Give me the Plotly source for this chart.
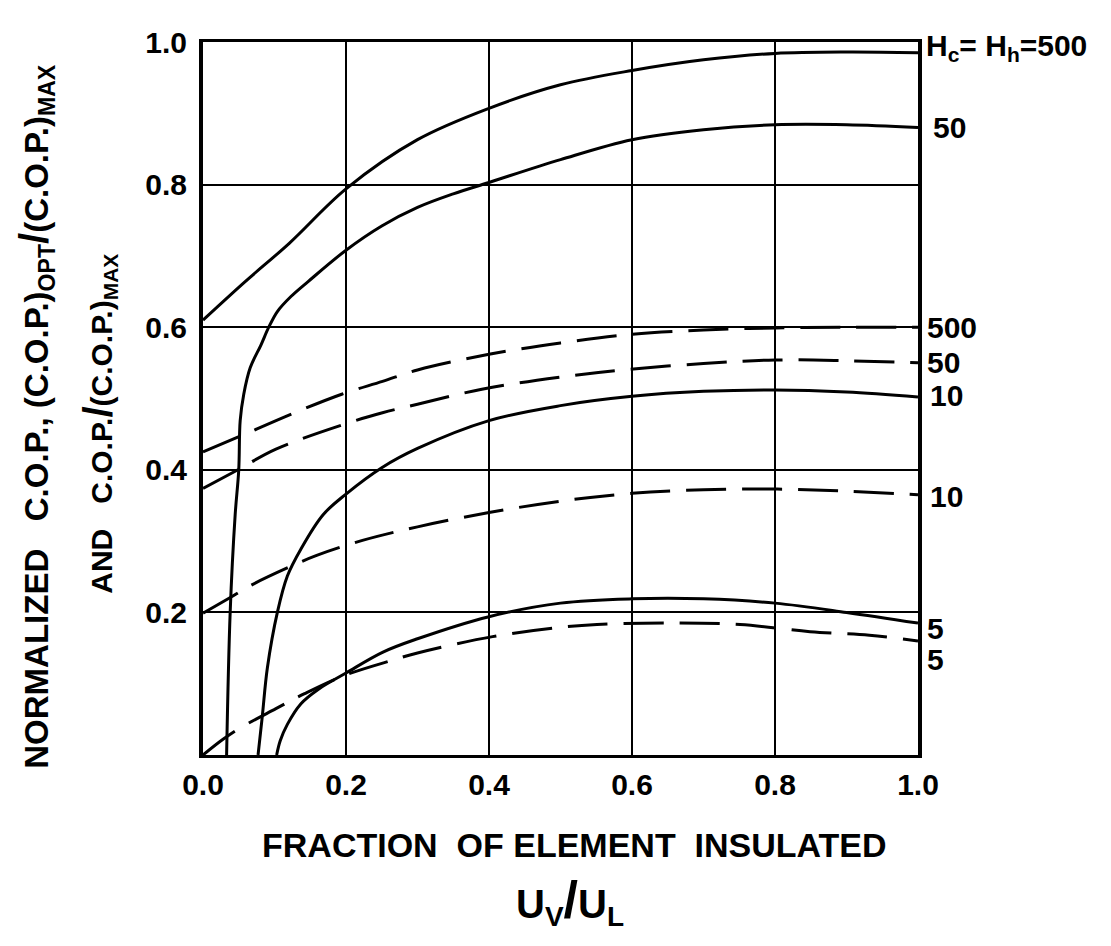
import plotly.graph_objects as go

# ---- axis ticks ----
x_ticks = [0.0, 0.2, 0.4, 0.6, 0.8, 1.0]
x_tick_labels = ["0.0", "0.2", "0.4", "0.6", "0.8", "1.0"]
y_ticks = [0.2, 0.4, 0.6, 0.8, 1.0]
y_tick_labels = ["0.2", "0.4", "0.6", "0.8", "1.0"]

# ---- solid curves: (C.O.P.)opt / (C.O.P.)max ----
s500_x = [0.0, 0.059, 0.121, 0.2, 0.3, 0.4, 0.5, 0.6, 0.7, 0.8, 0.9, 1.0]
s500_y = [0.61, 0.664, 0.718, 0.794, 0.863, 0.907, 0.94, 0.96, 0.975, 0.984, 0.986, 0.985]

s50_x = [0.033, 0.038, 0.045, 0.05, 0.052, 0.057, 0.066, 0.081, 0.092, 0.104, 0.123, 0.147, 0.2, 0.25, 0.3, 0.35, 0.4, 0.5, 0.6, 0.7, 0.8, 0.9, 1.0]
s50_y = [0.0, 0.2, 0.337, 0.4, 0.469, 0.506, 0.543, 0.575, 0.6, 0.622, 0.643, 0.664, 0.708, 0.742, 0.768, 0.787, 0.803, 0.835, 0.863, 0.877, 0.884, 0.884, 0.88]

s10_x = [0.077, 0.083, 0.09, 0.104, 0.118, 0.137, 0.168, 0.2, 0.25, 0.3, 0.4, 0.5, 0.6, 0.7, 0.8, 0.9, 1.0]
s10_y = [0.0, 0.055, 0.122, 0.2, 0.251, 0.289, 0.337, 0.366, 0.403, 0.43, 0.469, 0.49, 0.503, 0.51, 0.512, 0.509, 0.502]

s5_x = [0.103, 0.108, 0.118, 0.137, 0.161, 0.2, 0.251, 0.3, 0.4, 0.5, 0.6, 0.7, 0.8, 0.9, 1.0]
s5_y = [0.0, 0.02, 0.043, 0.072, 0.092, 0.115, 0.144, 0.163, 0.194, 0.213, 0.219, 0.219, 0.213, 0.2, 0.185]

# ---- dashed curves: C.O.P. / (C.O.P.)max ----
d500_x = [0.0, 0.047, 0.128, 0.194, 0.251, 0.3, 0.4, 0.5, 0.6, 0.7, 0.8, 0.9, 1.0]
d500_y = [0.425, 0.445, 0.48, 0.506, 0.524, 0.54, 0.562, 0.578, 0.59, 0.596, 0.599, 0.6, 0.6]

d50_x = [0.0, 0.047, 0.102, 0.204, 0.251, 0.3, 0.39, 0.5, 0.586, 0.7, 0.8, 0.9, 1.0]
d50_y = [0.374, 0.399, 0.429, 0.466, 0.48, 0.492, 0.513, 0.53, 0.54, 0.549, 0.554, 0.553, 0.55]

d10_x = [0.0, 0.04, 0.069, 0.126, 0.159, 0.223, 0.3, 0.4, 0.5, 0.6, 0.7, 0.8, 0.9, 1.0]
d10_y = [0.199, 0.222, 0.239, 0.266, 0.28, 0.301, 0.32, 0.34, 0.356, 0.367, 0.372, 0.373, 0.37, 0.365]

d5_x = [0.0, 0.028, 0.052, 0.102, 0.142, 0.199, 0.265, 0.3, 0.405, 0.5, 0.551, 0.649, 0.751, 0.849, 0.932, 1.0]
d5_y = [0.0, 0.022, 0.038, 0.065, 0.086, 0.112, 0.133, 0.143, 0.166, 0.179, 0.183, 0.185, 0.183, 0.173, 0.168, 0.16]

curve_labels = ["H<sub>c</sub>= H<sub>h</sub>=500", "50", "10", "5", "500", "50", "10", "5"]

series = [
    (s500_x, s500_y, "solid"), (s50_x, s50_y, "solid"),
    (s10_x, s10_y, "solid"), (s5_x, s5_y, "solid"),
    (d500_x, d500_y, "dash"), (d50_x, d50_y, "dash"),
    (d10_x, d10_y, "dash"), (d5_x, d5_y, "dash"),
]
label_yshift = [5, 0, 2, -5, 0, 0, -2, -19]
label_xshift = [6, 13, 10, 7, 7, 7, 10, 7]

FONT = "Liberation Sans"

fig = go.Figure()
for (xs, ys, style) in series:
    fig.add_trace(go.Scatter(
        x=xs, y=ys, mode="lines",
        line=dict(color="black", width=3, shape="spline", smoothing=1.0,
                  dash="solid" if style == "solid" else "40px,16px"),
        showlegend=False, hoverinfo="skip", cliponaxis=True,
    ))

annotations = []
for (xs, ys, style), lab, ysh, xsh in zip(series, curve_labels, label_yshift, label_xshift):
    annotations.append(dict(
        x=xs[-1], y=ys[-1], xref="x", yref="y", text=lab, showarrow=False,
        xanchor="left", yanchor="middle", xshift=xsh, yshift=ysh,
        font=dict(family=FONT, size=30, color="black", weight="bold"),
    ))

# axis titles
annotations.append(dict(
    x=-0.233, y=0.475, xref="paper", yref="paper", textangle=-90,
    text="NORMALIZED&nbsp;&nbsp;&nbsp;C.O.P.,&nbsp;(C.O.P.)<sub>OPT</sub><span style='font-size:40px'>/</span>(C.O.P.)<sub>MAX</sub>",
    showarrow=False, xanchor="center", yanchor="middle",
    font=dict(family=FONT, size=33, color="black", weight="bold"),
))
annotations.append(dict(
    x=-0.145, y=0.465, xref="paper", yref="paper", textangle=-90,
    text="AND&nbsp;&nbsp;&nbsp;C.O.P.<span style='font-size:40px'>/</span>(C.O.P.)<sub>MAX</sub>",
    showarrow=False, xanchor="center", yanchor="middle",
    font=dict(family=FONT, size=30, color="black", weight="bold"),
))
annotations.append(dict(
    x=0.52, y=-0.126, xref="paper", yref="paper",
    text="FRACTION&nbsp;&nbsp;OF ELEMENT&nbsp;&nbsp;INSULATED",
    showarrow=False, xanchor="center", yanchor="middle",
    font=dict(family=FONT, size=34, color="black", weight="bold"),
))
annotations.append(dict(
    x=0.513, y=-0.205, xref="paper", yref="paper",
    text="U<sub>V</sub><span style='font-size:52px'>/</span>U<sub>L</sub>",
    showarrow=False, xanchor="center", yanchor="middle",
    font=dict(family=FONT, size=40, color="black", weight="bold"),
))

fig.update_layout(
    width=1111, height=946,
    margin=dict(l=203, r=193, t=42, b=191),
    paper_bgcolor="white", plot_bgcolor="white",
    annotations=annotations,
    xaxis=dict(
        range=[0, 1], tickvals=x_ticks, ticktext=x_tick_labels,
        showgrid=True, gridcolor="black", gridwidth=2,
        showline=True, linecolor="black", linewidth=3, mirror=True,
        ticks="", ticklabelstandoff=1, zeroline=False,
        tickfont=dict(family=FONT, size=30, color="black", weight="bold"),
    ),
    yaxis=dict(
        range=[0, 1], tickvals=y_ticks, ticktext=y_tick_labels,
        showgrid=True, gridcolor="black", gridwidth=2,
        showline=True, linecolor="black", linewidth=4, mirror=True,
        ticks="", ticklabelstandoff=6, zeroline=False,
        tickfont=dict(family=FONT, size=30, color="black", weight="bold"),
    ),
)

fig.write_html("out.html")
